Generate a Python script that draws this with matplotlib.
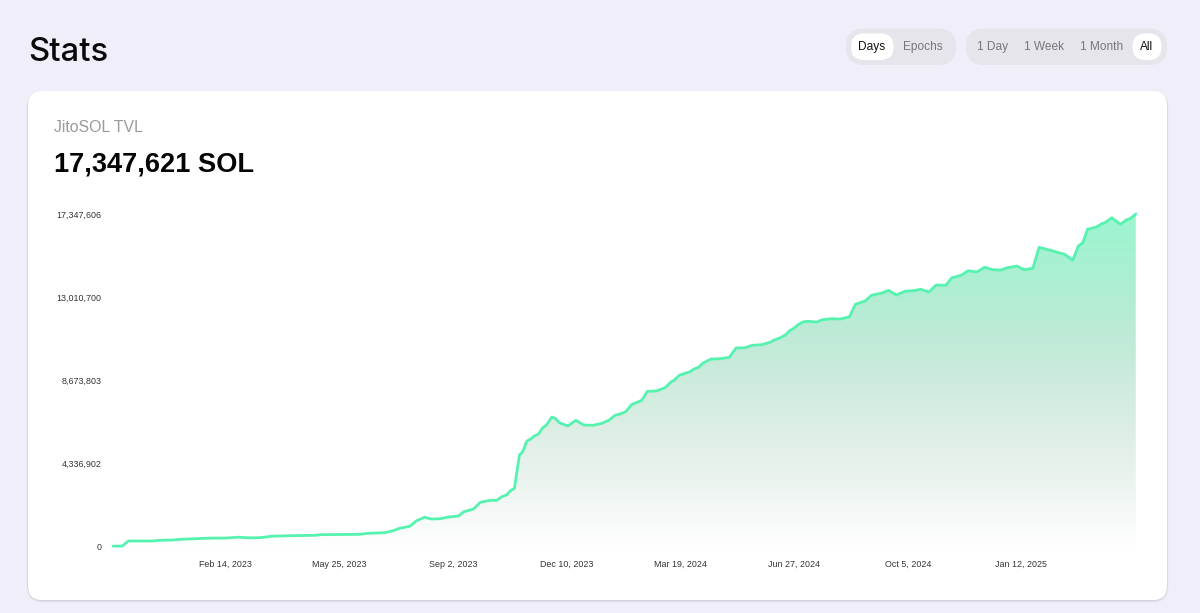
import numpy as np
import matplotlib
matplotlib.use("Agg")
import matplotlib.pyplot as plt
from matplotlib.colors import LinearSegmentedColormap
from matplotlib.patches import FancyBboxPatch, Polygon

plt.rcParams['font.family'] = ['Liberation Sans', 'DejaVu Sans']

# Days since the first sample (Nov 7, 2022)
days = [0, 8, 13.5, 35, 41, 53, 59, 74, 82, 100, 110, 120, 129, 140, 156, 178, 182, 217, 224.5, 239,
        246.5, 252, 261, 267, 274, 280, 288, 295, 304, 308, 317, 323, 332, 337.5, 342, 346, 350, 353,
        357.5, 360, 364, 367, 371, 374, 378, 381, 386, 389, 392.5, 400, 407, 414, 422, 430, 436.5,
        441.5, 446, 451, 456, 465, 470, 478, 485.5, 491, 493.5, 498, 507.5, 511, 515, 518.5, 526, 534,
        542, 548, 556, 562, 570.5, 578, 581.5, 585, 591, 595.5, 598, 603, 607, 610.5, 619, 624, 632,
        639.5, 647.5, 653, 661.5, 667, 676.5, 682, 689, 696.5, 704, 710.5, 717.5, 724, 732.5, 737.5,
        746.5, 752, 759.5, 766.5, 774, 781, 786.5, 795, 801, 809, 814.5, 837, 844, 849, 853, 857, 865,
        869.5, 872.5, 878.5, 886, 891.5, 894.5, 899.5]
# JitoSOL TVL, thousands of SOL
tvl_k = [20, 20, 287, 287, 323, 339, 376, 407, 433, 443, 485, 454, 459, 537, 563, 584, 616, 637, 689, 720,
         824, 950, 1054, 1346, 1523, 1435, 1450, 1539, 1591, 1800, 1956, 2306, 2410, 2410, 2598, 2687, 2932, 3026,
         4789, 4904, 5504, 5593, 5781, 5854, 6198, 6323, 6756, 6688, 6459, 6287, 6584, 6339, 6323, 6428, 6600,
         6845, 6913, 7033, 7398, 7628, 8097, 8113, 8285, 8598, 8671, 8932, 9120, 9261, 9349, 9558, 9782, 9798,
         9871, 10356, 10372, 10497, 10529, 10654, 10774, 10842, 11019, 11280, 11348, 11593, 11713, 11750, 11713, 11833, 11885,
         11870, 11974, 12637, 12809, 13106, 13226, 13367, 13122, 13315, 13346, 13419, 13278, 13643, 13628, 14009,
         14165, 14389, 14321, 14566, 14441, 14426, 14546, 14634, 14441, 14514, 15610, 15245, 14932, 15678, 15850, 16549, 16669,
         16841, 16893, 17154, 16810, 17050, 17102, 17348]

x_tick_days = [99, 199, 299, 399, 499, 599, 699, 799]
x_tick_labels = ["Feb 14, 2023", "May 25, 2023", "Sep 2, 2023", "Dec 10, 2023",
                 "Mar 19, 2024", "Jun 27, 2024", "Oct 5, 2024", "Jan 12, 2025"]
y_ticks = [0, 4336902, 8673803, 13010700, 17347606]

W, H = 1200, 613
BG = "#F0EEF9"
PILL = "#E6E5EC"
LINE = "#55F2B0"


def rounded(ax, x0, y0, x1, y1, r, **kw):
    p = FancyBboxPatch((x0 + r, y0 + r), x1 - x0 - 2 * r, y1 - y0 - 2 * r,
                       boxstyle=f"round,pad={r},rounding_size={r}", linewidth=0, **kw)
    ax.add_patch(p)
    return p


fig = plt.figure(figsize=(W / 100, H / 100), dpi=100, facecolor=BG)

# page furniture, drawn in pixel coordinates
bg = fig.add_axes([0, 0, 1, 1])
bg.set_xlim(0, W)
bg.set_ylim(H, 0)
bg.axis("off")

# soft shadow, mostly below the card
for grow, alpha in [(3, 0.03), (2, 0.05), (1, 0.08)]:
    rounded(bg, 28 - grow / 2, 91, 1167 + grow / 2, 600 + grow, 14 + grow, facecolor="#3a3a55", alpha=alpha)
rounded(bg, 28, 91, 1167, 600, 14, facecolor="white")

rounded(bg, 846, 28.5, 956, 65, 18, facecolor=PILL)
rounded(bg, 966, 28.5, 1167, 65, 18, facecolor=PILL)
rounded(bg, 851, 33.5, 893.5, 60, 13, facecolor="white")
rounded(bg, 1132.5, 33.5, 1161.5, 60, 13, facecolor="white")

for label, cx, col in [("Days", 872, "#111111"), ("Epochs", 923, "#777777"), ("1 Day", 993, "#777777"),
                       ("1 Week", 1044, "#777777"), ("1 Month", 1101.5, "#777777"), ("All", 1147, "#111111")]:
    bg.text(cx, 47, label, ha="center", va="center", fontsize=8.6, color=col)

bg.text(28, 61, "Stats", fontsize=23.6, family="Inter", fontweight="medium", color="#0a0a0a", va="baseline")
bg.text(54, 132, "JitoSOL TVL", fontsize=11.4, color="#9a9a9a", va="baseline")
bg.text(54, 171.5, "17,347,621 SOL", fontsize=19.6, fontweight="bold", color="#050505", va="baseline")

# chart
ax = fig.add_axes([113 / W, 1 - 546.5 / H, 1023 / W, 332.5 / H])
ax.patch.set_alpha(0)
for s in ax.spines.values():
    s.set_visible(False)

x = np.array(days)
y = np.array(tvl_k) * 1000.0

xmax, ymax = 899.7, 17347606
cmap = LinearSegmentedColormap.from_list("tvl", [(0, "#FFFFFF"), (0.12, "#F3F7F5"), (0.35, "#DDEEE5"),
                                                 (0.6, "#C2EAD8"), (0.8, "#ADEED2"), (1, "#9BF6D0")])
grad = np.linspace(1, 0, 256).reshape(-1, 1)
im = ax.imshow(grad, extent=(0, xmax, 0, ymax), aspect="auto", cmap=cmap, vmin=0, vmax=1, zorder=1)
clip = Polygon(np.column_stack([np.r_[x[0], x, x[-1]], np.r_[0, y, 0]]), closed=True, transform=ax.transData,
               facecolor="none", edgecolor="none")
ax.add_patch(clip)
im.set_clip_path(clip)

ax.plot(x, y, color=LINE, lw=2.0, solid_joinstyle="round", solid_capstyle="round", clip_on=False, zorder=2)

ax.set_xlim(0, xmax)
ax.set_ylim(0, ymax)
ax.set_xticks(x_tick_days)
ax.set_xticklabels(x_tick_labels)
ax.set_yticks(y_ticks)
ax.set_yticklabels([f"{v:,}" for v in y_ticks])
ax.tick_params(axis="x", length=0, pad=9.5, labelsize=6.4, labelcolor="#333333")
ax.tick_params(axis="y", length=0, pad=8.4, labelsize=6.4, labelcolor="#333333")

fig.savefig("out.png", dpi=100, facecolor=BG)
